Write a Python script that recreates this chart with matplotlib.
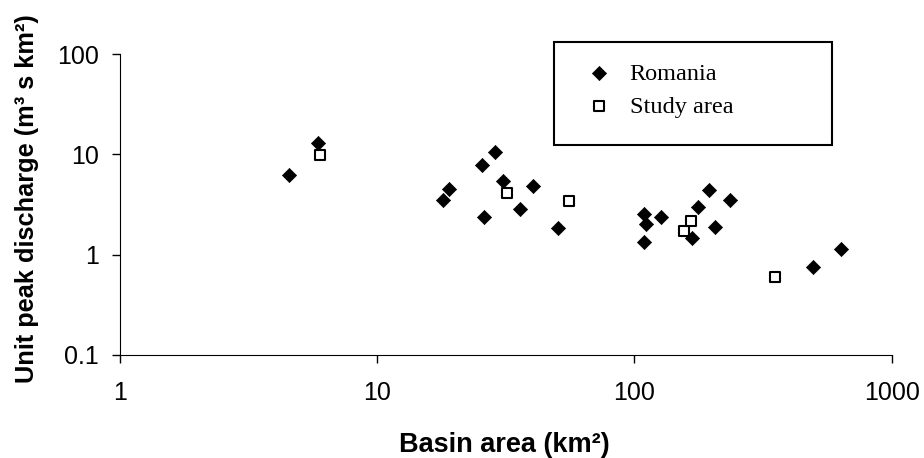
import matplotlib
matplotlib.use('Agg')
import matplotlib.pyplot as plt
from matplotlib.patches import Rectangle

# Romania basins: area (km2), unit peak discharge
romania_area = [4.55, 5.9, 18, 19, 25.6, 26.1, 28.7, 30.9, 35.9, 40.3, 50.3,
                109, 109, 111, 126.6, 168, 177, 194.5, 205.6, 235.5, 496, 636]
romania_q = [6.2, 13, 3.47, 4.47, 7.9, 2.36, 10.5, 5.4, 2.86, 4.86, 1.85,
             2.55, 1.33, 2.03, 2.36, 1.46, 3.02, 4.43, 1.88, 3.47, 0.746, 1.14]

# study area basins
study_area = [6.0, 31.9, 55.9, 156, 166, 352]
study_q = [9.9, 4.1, 3.39, 1.74, 2.19, 0.593]

x_ticks = [1, 10, 100, 1000]
y_ticks = [0.1, 1, 10, 100]

plt.rcParams['font.family'] = ['Liberation Sans', 'DejaVu Sans']

fig = plt.figure(figsize=(9.24, 4.58), dpi=100)
ax = fig.add_axes([120/924, 1 - 355/458, 771.7/924, 301/458])

ax.scatter(romania_area, romania_q, marker='D', s=52, c='black', edgecolors='black',
           linewidths=0.5, zorder=3, label='Romania')
ax.scatter(study_area, study_q, marker='s', s=62, facecolors='white', edgecolors='black',
           linewidths=1.5, zorder=4, label='Study area')

ax.set_xscale('log')
ax.set_yscale('log')
ax.set_xlim(1, 1000)
ax.set_ylim(0.1, 100)
ax.set_xticks(x_ticks)
ax.set_xticklabels(['1', '10', '100', '1000'])
ax.set_yticks(y_ticks)
ax.set_yticklabels(['0.1', '1', '10', '100'])
ax.minorticks_off()
ax.tick_params(axis='both', direction='out', length=6, width=1, labelsize=18, color='black')
ax.tick_params(axis='x', pad=13)
ax.tick_params(axis='y', pad=9)

ax.spines['top'].set_visible(False)
ax.spines['right'].set_visible(False)

fig.text(27/924, 1 - 383/458, 'Unit peak discharge (m\u00b3 s km\u00b2)', rotation=90,
         ha='center', va='bottom', fontsize=18.3, fontweight='bold')
fig.text(504/924, 0.0, 'Basin area (km\u00b2)', ha='center', va='bottom',
         fontsize=19.5, fontweight='bold')

# legend box
box = Rectangle((554/924, 1 - 145/458), 277.7/924, 103.3/458, transform=fig.transFigure,
                facecolor='white', edgecolor='black', linewidth=1.5, zorder=5)
fig.patches.append(box)
leg = fig.legend(loc='upper left', bbox_to_anchor=(575/924, 1 - 53/458), frameon=False,
                 prop={'family': 'Liberation Serif', 'size': 17.5}, handletextpad=0.65,
                 labelspacing=0.45, borderaxespad=0, handlelength=1.2)
leg.set_zorder(6)

fig.savefig('out.png', dpi=100)
